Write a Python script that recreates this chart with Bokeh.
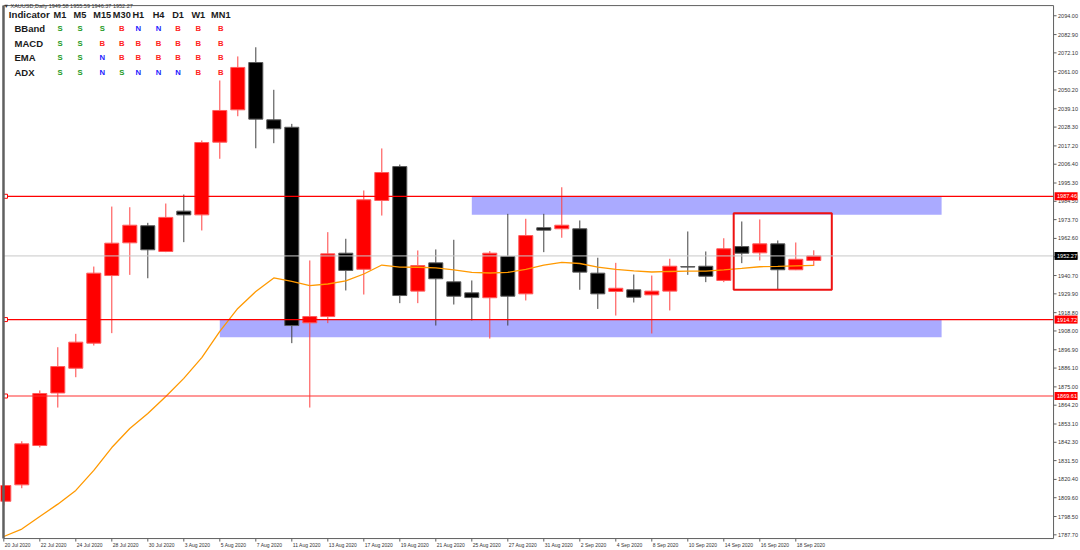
from bokeh.plotting import figure
from bokeh.models import Label, Range1d, ColumnDataSource
from bokeh.core.properties import value
from bokeh.embed import file_html
from bokeh.resources import INLINE

# ---------------- data ----------------
dates = ["20 Jul 2020", "21 Jul 2020", "22 Jul 2020", "23 Jul 2020", "24 Jul 2020",
         "27 Jul 2020", "28 Jul 2020", "29 Jul 2020", "30 Jul 2020", "31 Jul 2020",
         "3 Aug 2020", "4 Aug 2020", "5 Aug 2020", "6 Aug 2020", "7 Aug 2020",
         "10 Aug 2020", "11 Aug 2020", "12 Aug 2020", "13 Aug 2020", "14 Aug 2020",
         "17 Aug 2020", "18 Aug 2020", "19 Aug 2020", "20 Aug 2020", "21 Aug 2020",
         "24 Aug 2020", "25 Aug 2020", "26 Aug 2020", "27 Aug 2020", "28 Aug 2020",
         "31 Aug 2020", "1 Sep 2020", "2 Sep 2020", "3 Sep 2020", "4 Sep 2020",
         "7 Sep 2020", "8 Sep 2020", "9 Sep 2020", "10 Sep 2020", "11 Sep 2020",
         "14 Sep 2020", "15 Sep 2020", "16 Sep 2020", "17 Sep 2020", "18 Sep 2020",
         "21 Sep 2020"]

open_ = [1807.5, 1817.2, 1840.4, 1871.4, 1886.0, 1900.8, 1940.7, 1960.0, 1970.1, 1954.9,
         1978.7, 1976.5, 2019.4, 2038.5, 2066.4, 2032.6, 2028.2, 1912.8, 1916.5, 1953.9,
         1944.4, 1985.0, 2005.0, 1931.5, 1948.2, 1937.0, 1930.5, 1927.6, 1951.9, 1929.9,
         1968.9, 1968.3, 1968.3, 1942.1, 1931.3, 1932.3, 1929.3, 1931.5, 1946.0, 1946.2,
         1937.8, 1957.8, 1954.1, 1959.4, 1944.1, 1949.58]
high = [1819.8, 1842.9, 1872.9, 1898.4, 1906.3, 1946.0, 1981.4, 1981.0, 1971.8, 1983.2,
        1988.5, 2020.4, 2055.8, 2070.0, 2075.4, 2050.3, 2030.2, 1949.6, 1966.3, 1962.4,
        1990.9, 2015.7, 2006.2, 1955.5, 1956.1, 1961.8, 1937.8, 1955.1, 1977.1, 1974.2,
        1977.1, 1992.8, 1973.2, 1951.2, 1948.2, 1941.3, 1940.7, 1950.6, 1966.7, 1954.9,
        1962.7, 1972.6, 1973.8, 1961.4, 1960.2, 1955.59]
low = [1805.0, 1815.2, 1839.3, 1862.8, 1880.7, 1899.4, 1906.7, 1941.1, 1939.1, 1954.5,
       1960.4, 1967.3, 2009.6, 2034.7, 2015.8, 2018.8, 1900.8, 1862.8, 1912.6, 1931.9,
       1929.5, 1976.1, 1924.4, 1924.4, 1911.2, 1923.6, 1914.2, 1903.5, 1911.2, 1926.0,
       1954.5, 1963.0, 1932.3, 1921.0, 1917.1, 1924.8, 1906.5, 1920.1, 1941.1, 1936.8,
       1936.8, 1948.0, 1949.6, 1932.3, 1943.9, 1946.37]
close = [1816.8, 1841.4, 1871.1, 1887.0, 1901.4, 1942.1, 1959.8, 1970.4, 1955.9, 1975.0,
         1976.5, 2019.2, 2038.1, 2063.5, 2033.0, 2027.3, 1911.2, 1916.5, 1953.5, 1943.7,
         1985.4, 2001.5, 1928.9, 1946.6, 1938.8, 1928.5, 1927.7, 1953.9, 1928.5, 1964.3,
         1967.5, 1970.4, 1942.7, 1929.9, 1933.2, 1927.9, 1931.5, 1946.2, 1945.7, 1940.3,
         1956.5, 1953.9, 1959.4, 1944.1, 1950.3, 1952.27]
ma = [1786.7, 1791.1, 1798.5, 1805.8, 1813.9, 1825.7, 1839.2, 1850.4, 1859.3, 1869.3,
      1880.0, 1892.3, 1907.7, 1921.3, 1931.3, 1939.3, 1937.2, 1934.8, 1935.7, 1937.5,
      1941.6, 1946.9, 1945.7, 1945.6, 1945.2, 1944.0, 1942.6, 1942.2, 1942.6, 1944.3,
      1946.9, 1948.5, 1947.8, 1945.7, 1944.3, 1943.4, 1942.8, 1943.1, 1943.3, 1943.3,
      1944.0, 1944.9, 1945.9, 1946.1, 1946.4, 1946.7]

ytick_vals = [2094.00, 2082.90, 2072.10, 2061.00, 2050.20, 2039.10, 2028.30, 2017.20,
              2006.40, 1995.30, 1984.50, 1973.70, 1962.60, 1951.80, 1940.70, 1929.90,
              1918.80, 1908.00, 1896.90, 1886.10, 1875.00, 1864.20, 1853.10, 1842.30,
              1831.50, 1820.40, 1809.60, 1798.50, 1787.70]

level_lines = [1987.46, 1914.72, 1869.61]
level_colors = ["#ff0000", "#ff0000", "#ff3030"]
bid_price = 1952.27
zones = {"top": [1987.5, 1914.6], "bottom": [1976.5, 1904.3],
         "left": [26.0, 12.0], "right": [52.1, 52.1]}
focus_box = {"left": [40.55], "right": [46.0], "top": [1977.5], "bottom": [1932.3]}

ind_cols = ["M1", "M5", "M15", "M30", "H1", "H4", "D1", "W1", "MN1"]
ind_rows = ["BBand", "MACD", "EMA", "ADX"]
signals = [["S", "S", "S", "B", "N", "N", "B", "B", "B"],
           ["S", "S", "B", "B", "B", "B", "B", "B", "B"],
           ["S", "S", "N", "B", "B", "B", "B", "B", "B"],
           ["S", "S", "N", "S", "N", "N", "N", "B", "B"]]
title_text = "\u25BC XAUUSD,Daily  1949.58 1955.59 1946.37 1952.27"

# ---------------- layout constants ----------------
W, H = 1080, 550                      # whole figure == frame
XR = (-0.1833, 59.817)                # data x across the whole figure
YR = (1778.45, 2103.0)                # price across the whole figure
XPX = (XR[1] - XR[0]) / W             # data units per pixel (x)
YPX = (YR[1] - YR[0]) / H             # price units per pixel (y)
XL, XA = -0.017, 58.32                # chart left border / price-axis line
YB, YT = 1785.5, 2100.0               # chart bottom / top border

p = figure(width=W, height=H, x_range=Range1d(*XR), y_range=Range1d(*YR),
           output_backend="svg", toolbar_location=None,
           x_axis_location=None, y_axis_location=None,
           min_border=0, min_border_left=0, min_border_right=0,
           min_border_top=0, min_border_bottom=0,
           background_fill_color="white", border_fill_color="white")
p.grid.visible = False
p.outline_line_color = None

idx = list(range(len(open_)))
up = [c >= o for o, c in zip(open_, close)]
src = ColumnDataSource(dict(
    x=idx, o=open_, h=high, l=low, c=close,
    top=[max(o, c) for o, c in zip(open_, close)],
    bot=[min(o, c) for o, c in zip(open_, close)],
    fill=["#ff0000" if u else "#000000" for u in up],
    line=["#ff5c5c" if u else "#5a5a5a" for u in up],
    wick=["#ff4040" if u else "#404040" for u in up],
))

# zones (under candles)
p.quad(left=zones["left"], right=zones["right"], top=zones["top"], bottom=zones["bottom"],
       fill_color="#aaaaff", line_color=None)

p.segment(x0="x", x1="x", y0="h", y1="l", line_color="wick", line_width=1, source=src)
p.vbar(x="x", top="top", bottom="bot", width=0.78, fill_color="fill", line_color="line",
       line_width=1, source=src)

p.line(idx, ma, line_color="#ff9900", line_width=1.3)

p.quad(left=focus_box["left"], right=focus_box["right"], top=focus_box["top"],
       bottom=focus_box["bottom"], fill_alpha=0, line_color="#ee1111", line_width=2)

# horizontal levels (up to the price axis)
p.segment(x0=[XL], x1=[XA], y0=[bid_price], y1=[bid_price], line_color="#c8c8c8", line_width=1)
p.segment(x0=[XL] * 3, x1=[XA] * 3, y0=level_lines, y1=level_lines,
          line_color=level_colors, line_width=1.2)
p.scatter([XL + 2 * XPX] * 3, level_lines, marker="square", size=4,
          fill_color="white", line_color="#ff0000", line_width=1)

# chart border (left, top, bottom, price-axis line)
p.multi_line(xs=[[XL, XL], [XL, XA], [XL, XA], [XA, XA]],
             ys=[[YB, YT], [YT, YT], [YB, YB], [YB, YT]],
             line_color="#606060", line_width=[2.5, 1, 1, 1])

# price axis (right): ticks + labels
n = len(ytick_vals)
p.segment(x0=[XA] * n, x1=[XA + 3 * XPX] * n, y0=ytick_vals, y1=ytick_vals,
          line_color="#606060", line_width=1)
p.text(x=[XA + 4.5 * XPX] * n, y=ytick_vals, text=[f"{v:.2f}" for v in ytick_vals],
       text_font=value("Liberation Sans"), text_font_size="5.5px", text_color="#333333",
       text_baseline="middle", text_align="left")

# price tags
tag_prices = level_lines + [bid_price]
tag_colors = ["#ff0000", "#ff0000", "#ff0000", "#000000"]
p.quad(left=[XA + 1 * XPX] * 4, right=[XA + 24 * XPX] * 4,
       top=[v + 4 * YPX for v in tag_prices], bottom=[v - 4 * YPX for v in tag_prices],
       fill_color=tag_colors, line_color=None)
p.text(x=[XA + 3.5 * XPX] * 4, y=tag_prices, text=[f"{v:.2f}" for v in tag_prices],
       text_font=value("Liberation Sans"), text_font_size="5.5px", text_color="white",
       text_baseline="middle", text_align="left")

# date axis (below the chart)
date_idx = idx[::2]
m = len(date_idx)
p.segment(x0=date_idx, x1=date_idx, y0=[YB] * m, y1=[YB - 3 * YPX] * m,
          line_color="#606060", line_width=1)
p.text(x=[i + 1 * XPX for i in date_idx], y=[YB - 3 * YPX] * m,
       text=[dates[i] for i in date_idx], text_font=value("Liberation Sans"),
       text_font_size="5px", text_color="#333333", text_baseline="top", text_align="left")

# indicator table (screen units from figure top-left)
def add_txt(x, y_from_top, text, size, color, style="bold", align="left"):
    p.add_layout(Label(x=x, y=H - y_from_top, x_units="screen", y_units="screen",
                       text=text, text_font_size=size, text_font="Liberation Sans",
                       text_font_style=style, text_color=color,
                       text_align=align, text_baseline="middle"))

add_txt(3, 5.3, title_text, "5.5px", "#333333", style="normal")
add_txt(8.3, 14, "Indicator", "9.7px", "#1a1a1a")
col_x = [59.5, 79.5, 101.7, 121.3, 137.8, 158.0, 177.5, 197.8, 220.3]
row_y = [28.3, 42.7, 57.3, 72.0]
sig_col = {"S": "#1e9a1e", "B": "#ff2222", "N": "#2222ff"}
for cx, name in zip(col_x, ind_cols):
    add_txt(cx, 14, name, "9.2px", "#1a1a1a", align="center")
for ry, rname, sigs in zip(row_y, ind_rows, signals):
    add_txt(14, ry, rname, "9.5px", "#1a1a1a")
    for cx, s in zip(col_x, sigs):
        add_txt(cx, ry, s, "7.7px", sig_col[s], align="center")

open("out.html", "w").write(file_html(p, INLINE))
